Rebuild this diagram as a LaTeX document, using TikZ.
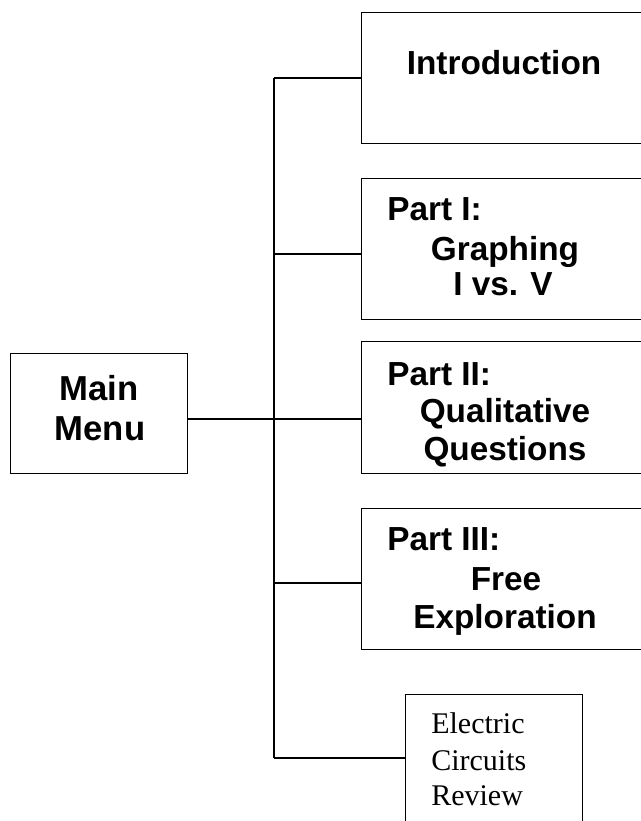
\documentclass[tikz,border=0pt]{standalone}
\usepackage{fontspec}
\setmainfont{Liberation Sans}
\newfontfamily\timesfont{Liberation Serif}
\tikzset{
  menubox/.style={draw, line width=1.1pt, inner sep=0pt, anchor=north west},
  boxtext/.style={inner sep=0pt, font=\fontsize{25}{29}\selectfont\bfseries},
  revtext/.style={inner sep=0pt, anchor=base west, font=\fontsize{22.5}{27}\selectfont\timesfont},
  link/.style={line width=1.1pt}
}
\begin{document}
\begin{tikzpicture}[x=0.75pt, y=-0.75pt]
      \useasboundingbox (0,0) rectangle (641,821);
      \clip (0,0) rectangle (641,821);
      % boxes
      \node[menubox, minimum width=132.75pt, minimum height=90pt] (main) at (10,353) {};
      \node[menubox, minimum width=224.25pt, minimum height=98.25pt] (intro) at (361,12) {};
      \node[menubox, minimum width=224.25pt, minimum height=105.75pt] (part1) at (361,178) {};
      \node[menubox, minimum width=224.25pt, minimum height=99pt] (part2) at (361,341) {};
      \node[menubox, minimum width=224.25pt, minimum height=105.75pt] (part3) at (361,508) {};
      \node[menubox, minimum width=132.75pt, minimum height=102pt] (review) at (405,694) {};
      % texts
      \node[boxtext, anchor=base, font=\fontsize{26}{30}\selectfont\bfseries] (mainA) at (99,400) {Main};
      \node[boxtext, anchor=base, font=\fontsize{26}{30}\selectfont\bfseries] (mainB) at (100,440) {Menu};
      \node[boxtext, anchor=base] (introA) at (504,74) {Introduction};
      \node[boxtext, anchor=base west] (part1A) at (387,220) {Part I:};
      \node[boxtext, anchor=base] (part1B) at (505,260) {Graphing};
      \node[boxtext, anchor=base] (part1C) at (503,295) {I vs. V};
      \node[boxtext, anchor=base west] (part2A) at (387,385) {Part II:};
      \node[boxtext, anchor=base] (part2B) at (505,422) {Qualitative};
      \node[boxtext, anchor=base] (part2C) at (505,460) {Questions};
      \node[boxtext, anchor=base west] (part3A) at (387,550) {Part III:};
      \node[boxtext, anchor=base] (part3B) at (506,590) {Free};
      \node[boxtext, anchor=base] (part3C) at (505,628) {Exploration};
      \node[revtext] (reviewA) at (431,733) {Electric};
      \node[revtext] (reviewB) at (431,770) {Circuits};
      \node[revtext] (reviewC) at (431,805) {Review};
      % spine
      \coordinate (j1) at (274,78);
      \coordinate (j2) at (274,254);
      \coordinate (j3) at (274,419);
      \coordinate (j4) at (274,583);
      \coordinate (j5) at (274,758);
      \draw [link] (j1) -- (j5);
      \draw [link] (main.east |- j3) -- (j3 -| part2.west);
      \draw [link] (j1) -- (j1 -| intro.west);
      \draw [link] (j2) -- (j2 -| part1.west);
      \draw [link] (j4) -- (j4 -| part3.west);
      \draw [link] (j5) -- (j5 -| review.west);
\end{tikzpicture}
\end{document}
